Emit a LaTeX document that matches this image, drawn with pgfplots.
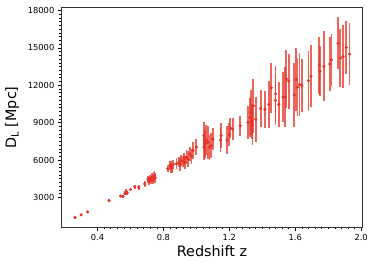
\documentclass[border=0pt]{standalone}
\usepackage{pgfplots}
\pgfplotsset{compat=1.18}
\usepackage{pgfplotstable}
\usepackage{fontspec}
\setmainfont{DejaVu Sans}
\definecolor{dlred}{RGB}{228,52,40}
\pgfplotstableread{
z d e
0.264 1390 60
0.300 1600 70
0.340 1840 80
0.470 2740 130
0.540 3110 100
0.554 3060 130
0.566 3320 160
0.574 3450 200
0.580 3350 150
0.600 3630 150
0.626 3850 180
0.650 3800 180
0.686 4080 220
0.706 4460 280
0.712 4300 300
0.720 4510 300
0.725 4380 320
0.730 4600 330
0.735 4420 350
0.740 4650 380
0.746 4700 420
0.750 4550 380
0.826 5300 300
0.840 5570 350
0.846 5440 450
0.852 5300 380
0.860 5650 350
0.880 5700 450
0.894 5830 400
0.900 5650 500
0.906 5970 450
0.920 5900 450
0.926 6100 500
0.932 5800 550
0.940 6230 550
0.950 6050 650
0.960 6490 550
0.970 6300 600
0.980 6760 650
1.000 7030 650
1.046 7960 1100
1.046 7030 1000
1.052 7300 1100
1.060 7600 1200
1.070 7420 1300
1.080 7000 1000
1.090 7160 1000
1.100 7685 900
1.146 7605 1000
1.150 7955 1000
1.186 7605 1100
1.200 8034 900
1.206 8558 800
1.220 8480 900
1.266 8750 800
1.314 9010 1300
1.326 9408 1600
1.330 9805 1800
1.336 9100 1400
1.340 8800 1600
1.346 10336 2200
1.360 9273 1800
1.390 10146 1500
1.416 10067 1500
1.440 10464 1900
1.454 11790 2000
1.480 11313 2200
1.480 10781 2000
1.500 10464 1800
1.526 11051 2000
1.540 11051 2400
1.546 12504 2300
1.560 12322 2200
1.594 11210 2600
1.606 12449 2500
1.614 11845 2300
1.626 12052 2500
1.640 11973 2100
1.680 12370 2400
1.696 12719 2500
1.746 13592 2300
1.750 13115 2000
1.774 13513 2800
1.810 13695 2200
1.820 14037 2100
1.860 15363 2100
1.874 14172 2300
1.890 14306 2500
1.910 15021 2100
1.930 14489 2500
}\datatable
\begin{document}
\begin{tikzpicture}
\begin{axis}[
  scale only axis,
  width=305pt, height=222pt,
  xmin=0.18, xmax=2.01,
  ymin=600, ymax=18200,
  xtick={0.4,0.8,1.2,1.6,2.0},
  xticklabels={0.4,0.8,1.2,1.6,2.0},
  ytick={3000,6000,9000,12000,15000,18000},
  scaled y ticks=false,
  yticklabel style={/pgf/number format/.cd,fixed,1000 sep={}},
  /pgf/number format/assume math mode=true,
  minor x tick num=9,
  minor y tick num=9,
  tick align=outside,
  xtick pos=bottom, ytick pos=left,
  major tick length=3.5pt,
  minor tick length=2pt,
  tick style={black, line width=0.5pt},
  axis line style={black!80, line width=0.8pt},
  tick label style={font=\fontsize{8.4}{10}\selectfont},
  label style={font=\fontsize{14.5}{16}\selectfont},
  xlabel={Redshift z},
  ylabel={D\textsubscript{L} [Mpc]},
  xlabel style={yshift=2pt},
  ylabel style={yshift=2pt},
]
\addplot[only marks, mark=*, mark size=1.4pt, color=dlred,
  error bars/.cd, y dir=both, y explicit, error mark=none,
  error bar style={line width=1.8pt, dlred, opacity=0.75}]
  table[x=z, y=d, y error=e] {\datatable};
\end{axis}
\path ([shift={(-2pt,-3pt)}]current bounding box.south west) rectangle ([shift={(3pt,4pt)}]current bounding box.north east);
\end{tikzpicture}
\end{document}
